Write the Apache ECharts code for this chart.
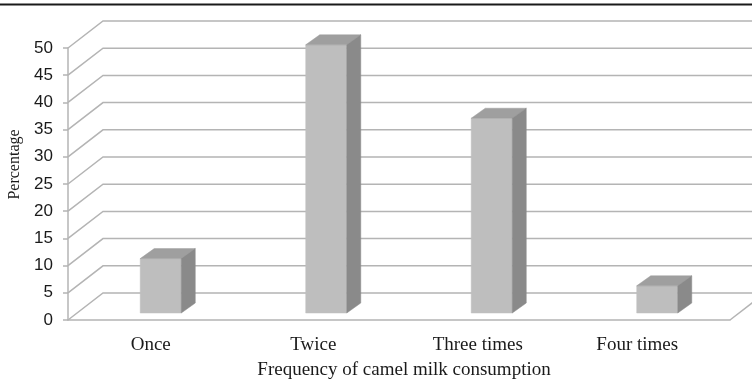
<!DOCTYPE html>
<html>
<head>
<meta charset="utf-8">
<script src="https://cdn.jsdelivr.net/npm/echarts@6/dist/echarts.min.js"></script>
<style>
html,body{margin:0;padding:0;background:#fff;}
#chart{width:752px;height:380px;}
</style>
</head>
<body>
<div id="chart"></div>
<script>
// ---- data ----
const categories = ['Once', 'Twice', 'Three times', 'Four times'];
const percentages = [10, 49.3, 35.8, 5];
const yTickValues = [0, 5, 10, 15, 20, 25, 30, 35, 40, 45, 50];
const xTitle = 'Frequency of camel milk consumption';
const yTitle = 'Percentage';

// ---- 3D styling constants (pixels) ----
const WALL_DX = 35, WALL_DY = 27;   // depth of the floor / side wall
const BAR_OFF_X = 10, BAR_OFF_Y = 7; // bar sits slightly inside the floor
const BAR_DX = 14, BAR_DY = 10;      // bar depth
const GRID_COLOR = '#b4b4b4';
const TEXT_COLOR = '#1a1a1a';
// per-label right padding (pixels) to nudge category labels like the original layout
const LABEL_NUDGE = [0, 6, 8, 20];

const chart = echarts.init(document.getElementById('chart'), null, {renderer: 'canvas'});

const richStyles = {};
LABEL_NUDGE.forEach(function (p, i) {
  richStyles['c' + i] = {
    fontFamily: 'Liberation Serif', fontSize: 19, color: TEXT_COLOR,
    padding: [0, p, 0, 0]
  };
});

const option = {
  backgroundColor: '#fff',
  animation: false,
  grid: {left: 68, right: 22, top: 48, bottom: 60, containLabel: false, outerBoundsMode: 'none'},
  graphic: [{
    type: 'line',
    shape: {x1: 0, y1: 4.5, x2: 752, y2: 4.5},
    style: {stroke: '#1a1a1a', lineWidth: 2}
  }],
  xAxis: {
    type: 'category',
    data: categories,
    axisLine: {show: true, lineStyle: {color: GRID_COLOR, width: 1.5}},
    axisTick: {show: false},
    axisLabel: {
      interval: 0,
      hideOverlap: false,
      margin: 16,
      fontFamily: 'Liberation Serif',
      fontSize: 19,
      color: TEXT_COLOR,
      formatter: function (val, idx) { return '{c' + idx + '|' + val + '}'; },
      rich: richStyles
    },
    name: xTitle,
    nameLocation: 'middle',
    nameGap: 41,
    nameTextStyle: {
      fontFamily: 'Liberation Serif',
      fontSize: 19,
      color: TEXT_COLOR,
      padding: [0, 0, 0, 10]
    }
  },
  yAxis: {
    type: 'value',
    min: 0,
    max: 50,
    interval: 5,
    axisLine: {show: true, lineStyle: {color: GRID_COLOR, width: 1.5}},
    axisTick: {show: true, length: 5, lineStyle: {color: GRID_COLOR, width: 1.5}},
    splitLine: {show: false},
    axisLabel: {
      margin: 15,
      fontFamily: 'Liberation Sans',
      fontSize: 17,
      color: TEXT_COLOR
    },
    name: yTitle,
    nameLocation: 'middle',
    nameRotate: 90,
    nameGap: 39,
    nameTextStyle: {
      fontFamily: 'Liberation Serif',
      fontSize: 16,
      color: TEXT_COLOR,
      padding: [0, 0, 0, 39]
    }
  },
  series: [
    {
      // side wall + back wall gridlines
      type: 'custom',
      z: 1,
      silent: true,
      clip: false,
      data: yTickValues.map(function (v) { return [0, v]; }),
      renderItem: function (params, api) {
        const v = api.value(1);
        const cs = params.coordSys;
        const y = api.coord([0, v])[1];
        const x0 = cs.x;
        const xr = cs.x + cs.width;
        const children = [{
          type: 'polyline',
          shape: {points: [[x0, y], [x0 + WALL_DX, y - WALL_DY], [xr + WALL_DX, y - WALL_DY]]},
          style: {stroke: GRID_COLOR, lineWidth: 1.5, fill: null}
        }];
        if (v === 0) {
          children.push({
            type: 'line',
            shape: {x1: xr, y1: y, x2: xr + WALL_DX, y2: y - WALL_DY},
            style: {stroke: GRID_COLOR, lineWidth: 1.5}
          });
        }
        return {type: 'group', children: children};
      }
    },
    {
      // 3D bars
      type: 'custom',
      z: 5,
      clip: false,
      data: percentages.map(function (v, i) { return [i, v]; }),
      renderItem: function (params, api) {
        const i = api.value(0);
        const v = api.value(1);
        const top = api.coord([i, v]);
        const base = api.coord([i, 0]);
        const band = api.size([1, 0])[0];
        const w = band * 0.248;
        const cx = top[0] + BAR_OFF_X;
        const L = cx - w / 2, R = cx + w / 2;
        const T = top[1] - BAR_OFF_Y, B = base[1] - BAR_OFF_Y;
        return {
          type: 'group',
          children: [
            {type: 'polygon', shape: {points: [[L, T], [R, T], [R, B], [L, B]]},
             style: {fill: '#bebebe', stroke: '#bebebe', lineWidth: 0.5}},
            {type: 'polygon', shape: {points: [[L, T], [L + BAR_DX, T - BAR_DY], [R + BAR_DX, T - BAR_DY], [R, T]]},
             style: {fill: '#9f9f9f', stroke: '#9f9f9f', lineWidth: 0.5}},
            {type: 'polygon', shape: {points: [[R, T], [R + BAR_DX, T - BAR_DY], [R + BAR_DX, B - BAR_DY], [R, B]]},
             style: {fill: '#8a8a8a', stroke: '#8a8a8a', lineWidth: 0.5}}
          ]
        };
      }
    }
  ]
};

chart.setOption(option);
</script>
</body>
</html>
